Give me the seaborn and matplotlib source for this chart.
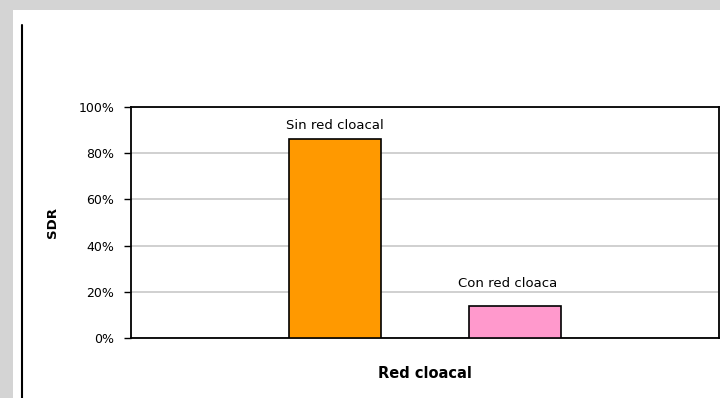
import numpy as np
import pandas as pd
import matplotlib
matplotlib.use('Agg')
import matplotlib.pyplot as plt
import seaborn as sns
from matplotlib.patches import Rectangle
from matplotlib.lines import Line2D
from matplotlib.ticker import PercentFormatter

# data
group = ['Red cloacal', 'Red cloacal']
series = ['Sin red cloacal', 'Con red cloaca']
values = [86, 14]
colors = ['#FF9900', '#FF99CC']
y_ticks = [0, 20, 40, 60, 80, 100]

df = pd.DataFrame({'grupo': group, 'serie': series, 'SDR': values})

sns.set_style('white')
plt.rcParams['font.family'] = ['DejaVu Sans']
plt.rcParams['text.color'] = 'black'
plt.rcParams['axes.labelcolor'] = 'black'
plt.rcParams['ytick.color'] = 'black'

W, H = 720, 398
fig = plt.figure(figsize=(W / 100, H / 100), dpi=100)
fig.patch.set_facecolor('#d4d4d4')

# white chart panel and left black line
fig.patches.append(Rectangle((13 / W, 0), 1, 1 - 10 / H, transform=fig.transFigure,
                             facecolor='white', edgecolor='none', zorder=-10))
fig.lines.append(Line2D([22 / W, 22 / W], [0, 1 - 25 / H], transform=fig.transFigure,
                        color='black', linewidth=1.5, zorder=-5))

ax = fig.add_axes([131 / W, (H - 338) / H, (719 - 131) / W, 231 / H])
ax.set_facecolor('white')

sns.barplot(data=df, x='grupo', y='SDR', hue='serie', hue_order=series,
            palette=colors, width=0.612, gap=0.49, edgecolor='black',
            linewidth=1.2, saturation=1, legend=False, ax=ax, zorder=3)

ax.set_ylim(0, 100)
ax.set_xlim(-0.5, 0.5)
ax.set_yticks(y_ticks)
ax.yaxis.set_major_formatter(PercentFormatter(decimals=0))
ax.tick_params(axis='y', direction='out', length=5, width=1, color='black',
               labelcolor='black', labelsize=9, pad=7, left=True)
ax.tick_params(axis='x', length=0, labelbottom=False)
ax.yaxis.grid(True, color='#c8c8c8', linewidth=1.2, zorder=0)
ax.set_axisbelow(True)

for side in ['left', 'bottom', 'top', 'right']:
    ax.spines[side].set_color('black')
    ax.spines[side].set_linewidth(1.3)

# labels above bars
for patch, label, dy, dx in zip(ax.patches, series, [5, 11], [0, -5]):
    x = patch.get_x() + patch.get_width() / 2
    ax.annotate(label, (x, patch.get_height()), xytext=(dx, dy),
                textcoords='offset points', ha='center', va='bottom',
                fontsize=9.5, color='black')

ax.set_ylabel('SDR', fontsize=9.5, fontweight='bold', labelpad=14, color='black')
ax.set_xlabel('Red cloacal', fontsize=10.5, fontweight='bold', labelpad=20, color='black')

fig.savefig('out.png', dpi=100, facecolor=fig.get_facecolor())
